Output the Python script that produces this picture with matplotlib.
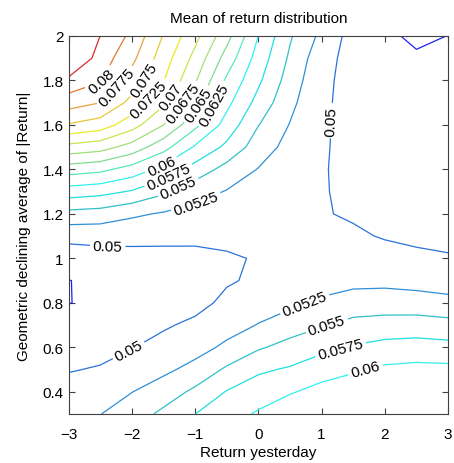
import numpy as np
import matplotlib.pyplot as plt

# grid
x_vals = [-3, -2.5, -2, -1.5, -1, -0.5, 0, 0.5, 1, 1.5, 2, 2.5, 3]
y_vals = [0.3, 0.4, 0.5, 0.6, 0.7, 0.8, 0.9, 1.0, 1.1, 1.2, 1.3, 1.4, 1.5, 1.6, 1.7, 1.8, 1.9, 2.0]

# mean of return distribution, one row per y value (bottom to top)
z_rows = [
    [0.0521, 0.05245, 0.0537, 0.05558, 0.05748, 0.05899, 0.06029, 0.06175, 0.0620, 0.0620, 0.0620, 0.0621, 0.0621],
    [0.05095, 0.05135, 0.05245, 0.05365, 0.05553, 0.05762, 0.05877, 0.05976, 0.06085, 0.0612, 0.0614, 0.0616, 0.0616],
    [0.04985, 0.0502, 0.05117, 0.05202, 0.0532, 0.0554, 0.05711, 0.05778, 0.05888, 0.05974, 0.06045, 0.06068, 0.06063],
    [0.0489, 0.0492, 0.0499, 0.05082, 0.05167, 0.05293, 0.05471, 0.05581, 0.05687, 0.0577, 0.05833, 0.05855, 0.05831],
    [0.0483, 0.0485, 0.0486, 0.0497, 0.05052, 0.05162, 0.05259, 0.05386, 0.0548, 0.05569, 0.05598, 0.05608, 0.05579],
    [0.04745, 0.0479, 0.0482, 0.0486, 0.0492, 0.05057, 0.0515, 0.0519, 0.05299, 0.05371, 0.0538, 0.05369, 0.05338],
    [0.04745, 0.0480, 0.0484, 0.0487, 0.0490, 0.04975, 0.0504, 0.0508, 0.0512, 0.05176, 0.05183, 0.05153, 0.05107],
    [0.0487, 0.0490, 0.0492, 0.0493, 0.0494, 0.04975, 0.05015, 0.0505, 0.0507, 0.0506, 0.0505, 0.0503, 0.0501],
    [0.0507, 0.0508, 0.0507, 0.05058, 0.05049, 0.05052, 0.0503, 0.0505, 0.0503, 0.0502, 0.0499, 0.0497, 0.0497],
    [0.0542, 0.0539, 0.05292, 0.05225, 0.05171, 0.05144, 0.0509, 0.0506, 0.05009, 0.04985, 0.0494, 0.0493, 0.0494],
    [0.0588, 0.0583, 0.05727, 0.05545, 0.05347, 0.05236, 0.0515, 0.0508, 0.0501, 0.0497, 0.0492, 0.0490, 0.0491],
    [0.0637, 0.0631, 0.0615, 0.05922, 0.0565, 0.0541, 0.0524, 0.0512, 0.05011, 0.0496, 0.0490, 0.0488, 0.0489],
    [0.0692, 0.0685, 0.06652, 0.06341, 0.05969, 0.05694, 0.05372, 0.0517, 0.05018, 0.0495, 0.0488, 0.0486, 0.0487],
    [0.0748, 0.0738, 0.07107, 0.06752, 0.06313, 0.05904, 0.05508, 0.05239, 0.05026, 0.0494, 0.0486, 0.0484, 0.0485],
    [0.0786, 0.07752, 0.07421, 0.07045, 0.06583, 0.06066, 0.05665, 0.05312, 0.05036, 0.0493, 0.0484, 0.0482, 0.0483],
    [0.0819, 0.08023, 0.07646, 0.07261, 0.06779, 0.06208, 0.05796, 0.05386, 0.05053, 0.0492, 0.0482, 0.0480, 0.0481],
    [0.0857, 0.08136, 0.07813, 0.07373, 0.06926, 0.06396, 0.05897, 0.05459, 0.0509, 0.0491, 0.0480, 0.0477, 0.0478],
    [0.0890, 0.08248, 0.0794, 0.07485, 0.07074, 0.0659, 0.05998, 0.05528, 0.05189, 0.0490, 0.0478, 0.0472, 0.04752],
]

levels = [0.0475, 0.05, 0.0525, 0.055, 0.0575, 0.06, 0.0625, 0.065, 0.0675,
          0.07, 0.0725, 0.075, 0.0775, 0.08, 0.0825]

# line colour per level
line_colors = ['#2020f0', '#2a72d8', '#2f8fd6', '#2fc0c8', '#1ee0e0', '#30f0f0',
               '#58e8b8', '#80dc90', '#a0e078', '#c8e450', '#eaea20', '#e8c838',
               '#e8a040', '#e07830', '#e02828']

# where the labels sit
label_pos = [(-2.45, 1.79), (-2.2, 1.76), (-1.85, 1.81), (-1.75, 1.72),
             (-1.4, 1.73), (-1.2, 1.70), (-0.95, 1.69), (-0.75, 1.70),
             (-1.55, 1.43), (-1.4, 1.36), (-1.25, 1.31), (-1.0, 1.26),
             (1.13, 1.62), (-2.38, 1.065), (-2.04, 0.58),
             (0.74, 0.79), (1.09, 0.69), (1.31, 0.58), (1.70, 0.49)]

plt.rcParams['font.family'] = ['Liberation Sans', 'DejaVu Sans']

fig = plt.figure(figsize=(4.54, 4.64), dpi=100)
ax = fig.add_axes([0.151, 0.1056, 0.836, 0.8147])

X, Y = np.meshgrid(x_vals, y_vals)
Z = np.array(z_rows)

cs = ax.contour(X, Y, Z, levels=levels, colors=line_colors, linewidths=0.9)
ax.clabel(cs, inline=True, fmt='%g', fontsize=11,
          colors='k', manual=label_pos, inline_spacing=3)

ax.set_xlim(-3, 3)
ax.set_ylim(0.3, 2)
ax.set_xticks([-3, -2, -1, 0, 1, 2, 3])
ax.set_yticks([0.4, 0.6, 0.8, 1, 1.2, 1.4, 1.6, 1.8, 2])
ax.set_yticklabels(['0.4', '0.6', '0.8', '1', '1.2', '1.4', '1.6', '1.8', '2'])
ax.tick_params(direction='in', top=True, right=True, labelsize=11, length=4,
               color='#404040')
ax.tick_params(axis='x', pad=9)
for s in ax.spines.values():
    s.set_color('#404040')
    s.set_linewidth(0.8)

ax.set_title('Mean of return distribution', fontsize=11, pad=10)
ax.set_xlabel('Return yesterday', fontsize=11, labelpad=3)
ax.set_ylabel('Geometric declining average of |Return|', fontsize=11, labelpad=8)

fig.savefig('out.png', dpi=100)
